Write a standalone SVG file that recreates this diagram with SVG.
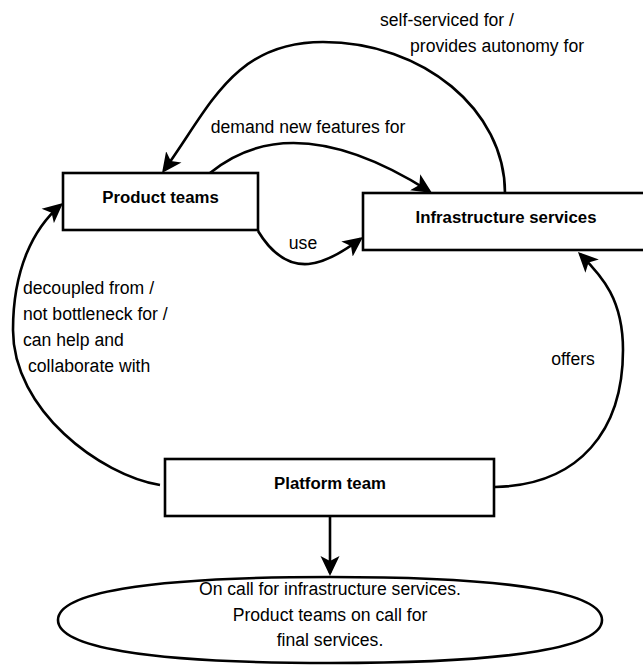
<svg xmlns="http://www.w3.org/2000/svg" width="643" height="665" viewBox="0 0 643 665">
<style>
.box{fill:#fff;stroke:#000;stroke-width:2.6}
.edge{fill:none;stroke:#000;stroke-width:2.6;marker-end:url(#arr)}
.t{font-family:"Liberation Sans",Arial,Helvetica,sans-serif;font-size:17.6px;fill:#000}
.b{font-family:"Liberation Sans",Arial,Helvetica,sans-serif;font-size:16.8px;font-weight:bold;fill:#000;text-anchor:middle}
.m{text-anchor:middle}
</style>
<defs>
<marker id="arr" viewBox="0 0 20 20" refX="17" refY="10" markerWidth="20" markerHeight="20" markerUnits="userSpaceOnUse" orient="auto">
<path d="M0,0.5 L20,10 L0,19.5 L5,10 Z" fill="#000"/>
</marker>
</defs>
<rect width="643" height="665" fill="#fff"/>
<g id="connectors">
<path class="edge" d="M210,173 Q293,105 429.5,191.4"/>
<path class="edge" d="M505,193 C505,110 423,42 323,42 C233,42 210,107 163.8,170.6"/>
<path class="edge" d="M258,231 C289.5,283.2 327,264 360.6,238.8"/>
<path class="edge" d="M160,485 C100,475 13,410 13,330 C13,270 33,228.5 60.7,204.9"/>
<path class="edge" d="M495,487 C580,485 623,430 623,350 C623,300 603,277 580.1,254.1"/>
<path class="edge" d="M330,517 L330,573"/>
<text class="t m" x="308" y="133">demand new features for</text>
<text class="t" x="380" y="26">self-serviced for /</text>
<text class="t" x="410" y="52">provides autonomy for</text>
<text class="t m" x="303" y="249">use</text>
<text class="t" x="23" y="294">decoupled from /</text>
<text class="t" x="23" y="320">not bottleneck for /</text>
<text class="t" x="23" y="346">can help and</text>
<text class="t" x="28" y="372">collaborate with</text>
<text class="t m" x="573" y="365">offers</text>
</g>
<g id="product-teams">
<rect class="box" x="63" y="173" width="195" height="57"/>
<text class="b" x="160.5" y="203">Product teams</text>
</g>
<g id="infrastructure-services">
<rect class="box" x="363" y="193" width="286" height="57"/>
<text class="b" x="506" y="223">Infrastructure services</text>
</g>
<g id="platform-team">
<rect class="box" x="165" y="459" width="329" height="57"/>
<text class="b" x="330" y="489">Platform team</text>
</g>
<g id="on-call">
<path class="box" d="M58,620 C58,594 139.6,577 330,577 C520.4,577 602,594 602,620 C602,646 520.4,663 330,663 C139.6,663 58,646 58,620 Z"/>
<text class="t m" x="330" y="595">On call for infrastructure services.</text>
<text class="t m" x="330" y="621">Product teams on call for</text>
<text class="t m" x="330" y="646">final services.</text>
</g>
</svg>
